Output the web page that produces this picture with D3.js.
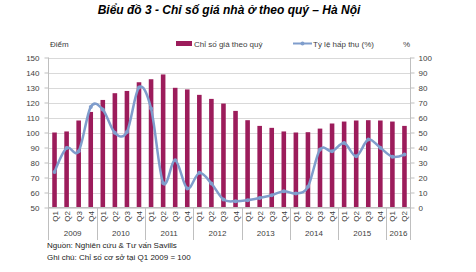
<!DOCTYPE html>
<meta charset="utf-8">
<style>
body {
  margin: 0;
  font-family: "Liberation Sans", Arial, sans-serif;
  background: #fff;
}
.grid line {
  stroke: #d9d9d9;
  stroke-width: 1;
}
.axis text {
  font-size: 8px;
  fill: #404040;
}
.axis path, .axis line {
  stroke: #bfbfbf;
}
</style>
<body>
<script src="https://cdn.jsdelivr.net/npm/d3@7"></script>
<script>

var years = ["2009", "2010", "2011", "2012", "2013", "2014", "2015", "2016"];
var quartersPerYear = [4, 4, 4, 4, 4, 4, 4, 2];

var priceIndex = [100, 100.7, 108, 113.7, 121.7, 126.2, 127.7, 133.5, 135.5, 138.7,
                  129.8, 128.7, 125.1, 122.4, 119.3, 114.4, 108.2, 104.4, 103.1, 100.7,
                  100, 100.2, 102.6, 106, 107.3, 108, 108.2, 108, 107.3, 104.4];

var absorption = [23.7, 39.7, 37.5, 67, 65.3, 49.8, 50.4, 80, 66, 16.4,
                  31.5, 12.7, 23.1, 16, 5.3, 4.2, 4.9, 6.4, 8.2, 10.9,
                  9.3, 13.8, 38.7, 37.5, 43, 34.2, 45.3, 39.8, 33.8, 35.3];

var leftTicks = [50, 60, 70, 80, 90, 100, 110, 120, 130, 140, 150];
var rightTicks = [0, 10, 20, 30, 40, 50, 60, 70, 80, 90, 100];

var width = 476,
    height = 272;

var plotLeft = 48.5, plotRight = 410.5, plotTop = 57.5, plotBottom = 207.5;

var barColor = "#9c1c5b",
    lineColor = "#7f9dcc";

// one entry per quarter
var quarters = [];
years.forEach(function(y, i) {
  for (var q = 1; q <= quartersPerYear[i]; q++) {
    quarters.push({year: y, q: "Q" + q, key: y + "Q" + q});
  }
});

var x = d3.scaleBand()
  .domain(quarters.map(function(d) { return d.key; }))
  .range([plotLeft, plotRight])
  .paddingInner(0.62)
  .paddingOuter(0.31);

var yLeft = d3.scaleLinear().domain([50, 150]).range([plotBottom, plotTop]);
var yRight = d3.scaleLinear().domain([0, 100]).range([plotBottom, plotTop]);

var svg = d3.select("body").append("svg")
    .attr("width", width)
    .attr("height", height);

// title
svg.append("text")
    .attr("x", 229)
    .attr("y", 14)
    .attr("text-anchor", "middle")
    .style("font-size", "12px")
    .style("font-weight", "bold")
    .style("font-style", "italic")
    .style("fill", "#000")
    .text("Biểu đồ 3 - Chỉ số giá nhà ở theo quý – Hà Nội");

// grid
svg.append("g")
    .attr("class", "grid")
  .selectAll("line")
    .data(leftTicks)
  .enter().append("line")
    .attr("x1", plotLeft)
    .attr("x2", plotRight)
    .attr("y1", function(d) { return Math.round(yLeft(d)) + 0.5; })
    .attr("y2", function(d) { return Math.round(yLeft(d)) + 0.5; });

// axes
svg.append("g")
    .attr("class", "axis")
    .attr("transform", "translate(" + plotLeft + ",0)")
    .call(d3.axisLeft(yLeft).tickValues(leftTicks).tickSize(4).tickPadding(5));

svg.append("g")
    .attr("class", "axis")
    .attr("transform", "translate(" + plotRight + ",0)")
    .call(d3.axisRight(yRight).tickValues(rightTicks).tickSize(4).tickPadding(4));

svg.selectAll(".axis .domain").remove();

svg.append("line")
    .attr("x1", plotLeft).attr("x2", plotLeft)
    .attr("y1", plotTop).attr("y2", 240)
    .style("stroke", "#bfbfbf");
svg.append("line")
    .attr("x1", plotRight).attr("x2", plotRight)
    .attr("y1", plotTop).attr("y2", 240)
    .style("stroke", "#bfbfbf");

// bars
svg.append("g")
  .selectAll("rect")
    .data(priceIndex)
  .enter().append("rect")
    .attr("x", function(d, i) { return x(quarters[i].key); })
    .attr("width", x.bandwidth())
    .attr("y", function(d) { return yLeft(d); })
    .attr("height", function(d) { return yLeft(50) - yLeft(d); })
    .style("fill", barColor);

// x axis baseline
svg.append("line")
    .attr("x1", plotLeft).attr("x2", plotRight)
    .attr("y1", plotBottom).attr("y2", plotBottom)
    .style("stroke", "#bfbfbf");

// quarter labels
svg.append("g")
  .selectAll("text")
    .data(quarters)
  .enter().append("text")
    .attr("transform", function(d) {
      return "translate(" + (x(d.key) + x.bandwidth() / 2 + 3) + "," + 211 + ") rotate(-90)";
    })
    .attr("text-anchor", "end")
    .style("font-size", "8px")
    .style("fill", "#404040")
    .text(function(d) { return d.q; });

// year separators and labels
var start = 0;
years.forEach(function(y, i) {
  var k0 = quarters[start].key,
      k1 = quarters[start + quartersPerYear[i] - 1].key;
  var x0 = x(k0) - x.step() * x.paddingInner() / 2,
      x1 = x(k1) + x.bandwidth() + x.step() * x.paddingInner() / 2;
  if (i > 0) {
    svg.append("line")
        .attr("x1", Math.round(x0) + 0.5).attr("x2", Math.round(x0) + 0.5)
        .attr("y1", plotBottom).attr("y2", 240)
        .style("stroke", "#bfbfbf");
  }
  svg.append("text")
      .attr("x", (x0 + x1) / 2)
      .attr("y", 236)
      .attr("text-anchor", "middle")
      .style("font-size", "8px")
      .style("fill", "#404040")
      .text(y);
  start += quartersPerYear[i];
});

// line
var line = d3.line()
  .x(function(d, i) { return x(quarters[i].key) + x.bandwidth() / 2; })
  .y(function(d) { return yRight(d); })
  .curve(d3.curveCardinal.tension(0));

svg.append("path")
    .datum(absorption)
    .attr("d", line)
    .style("fill", "none")
    .style("stroke", lineColor)
    .style("stroke-width", 2.5);

svg.append("g")
  .selectAll("circle")
    .data(absorption)
  .enter().append("circle")
    .attr("cx", function(d, i) { return x(quarters[i].key) + x.bandwidth() / 2; })
    .attr("cy", function(d) { return yRight(d); })
    .attr("r", 2)
    .style("fill", lineColor);

// axis titles and legend
svg.append("text")
    .attr("x", 50).attr("y", 47)
    .style("font-size", "8px").style("fill", "#404040")
    .text("Điểm");
svg.append("text")
    .attr("x", 403).attr("y", 47)
    .style("font-size", "8px").style("fill", "#404040")
    .text("%");

svg.append("rect")
    .attr("x", 176).attr("y", 41)
    .attr("width", 16).attr("height", 5)
    .style("fill", barColor);
svg.append("text")
    .attr("x", 194).attr("y", 47)
    .style("font-size", "8px").style("fill", "#404040")
    .text("Chỉ số giá theo quý");

svg.append("line")
    .attr("x1", 293).attr("x2", 312)
    .attr("y1", 43.5).attr("y2", 43.5)
    .style("stroke", lineColor).style("stroke-width", 2);
svg.append("circle")
    .attr("cx", 302.5).attr("cy", 43.5).attr("r", 2)
    .style("fill", lineColor);
svg.append("text")
    .attr("x", 313).attr("y", 47)
    .style("font-size", "8px").style("fill", "#404040")
    .text("Tỷ lệ hấp thụ (%)");

// notes
svg.append("text")
    .attr("x", 47).attr("y", 248)
    .style("font-size", "8px").style("fill", "#222")
    .text("Nguồn: Nghiên cứu & Tư vấn Savills");
svg.append("text")
    .attr("x", 47).attr("y", 260)
    .style("font-size", "8px").style("fill", "#222")
    .text("Ghi chú: Chỉ số cơ sở tại Q1 2009 = 100");

</script>
